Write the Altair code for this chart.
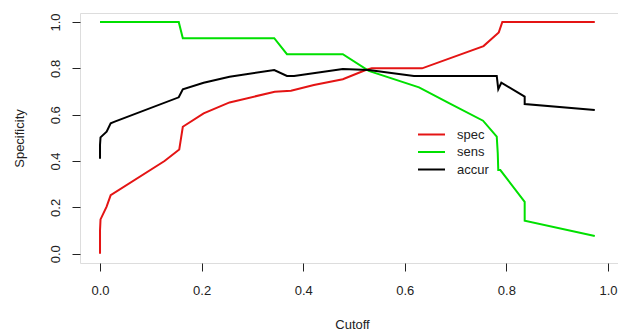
import altair as alt
import pandas as pd

# --- data ---
spec_x = [0.0, 0.0, 0.001, 0.013, 0.021, 0.127, 0.156, 0.163, 0.204, 0.255, 0.344, 0.376,
          0.421, 0.478, 0.523, 0.535, 0.634, 0.755, 0.785, 0.792, 0.974]
spec_y = [0.0, 0.10, 0.148, 0.203, 0.253, 0.40, 0.45, 0.548, 0.606, 0.653, 0.699, 0.703,
          0.728, 0.753, 0.793, 0.80, 0.80, 0.896, 0.955, 1.0, 1.0]

sens_x = [0.0, 0.155, 0.163, 0.343, 0.368, 0.478, 0.529, 0.628, 0.688, 0.754, 0.781, 0.783,
          0.784, 0.788, 0.836, 0.836, 0.974]
sens_y = [1.0, 1.0, 0.93, 0.93, 0.861, 0.861, 0.789, 0.718, 0.649, 0.574, 0.505, 0.433,
          0.361, 0.361, 0.224, 0.142, 0.076]

accur_x = [0.0, 0.0, 0.001, 0.013, 0.021, 0.029, 0.155, 0.163, 0.204, 0.255, 0.343, 0.368,
           0.382, 0.478, 0.529, 0.618, 0.781, 0.784, 0.790, 0.836, 0.836, 0.974]
accur_y = [0.41, 0.469, 0.502, 0.527, 0.563, 0.57, 0.675, 0.71, 0.738, 0.764, 0.793, 0.767,
           0.767, 0.797, 0.793, 0.767, 0.767, 0.71, 0.738, 0.678, 0.646, 0.62]

series = ["spec", "sens", "accur"]
colors = ["#e41414", "#00e000", "#000000"]
x_ticks = [0.0, 0.2, 0.4, 0.6, 0.8, 1.0]
y_ticks = [0.0, 0.2, 0.4, 0.6, 0.8, 1.0]

rows = []
for name, xs, ys in [("spec", spec_x, spec_y), ("sens", sens_x, sens_y), ("accur", accur_x, accur_y)]:
    for i, (xv, yv) in enumerate(zip(xs, ys)):
        rows.append({"series": name, "order": i, "cutoff": xv, "value": yv})
df = pd.DataFrame(rows)

FONT = "Liberation Sans"

chart = alt.Chart(df).mark_line(strokeWidth=2, clip=True).encode(
    x=alt.X("cutoff:Q",
            scale=alt.Scale(domain=[-0.0394, 1.0197], nice=False, zero=False),
            axis=alt.Axis(values=x_ticks, format=".1f", title="Cutoff",
                          domain=False, grid=False, tickSize=8, tickColor="#222",
                          labelPadding=13, labelFontSize=13, labelFont=FONT, labelColor="#222",
                          titleFont=FONT, titleFontSize=13, titleFontWeight="normal",
                          titleColor="#222", titleX=272, titleY=61, titleAlign="center",
                          titleBaseline="middle", labelFlush=False)),
    y=alt.Y("value:Q",
            scale=alt.Scale(domain=[-0.0401, 1.0389], nice=False, zero=False),
            axis=alt.Axis(values=y_ticks, format=".1f", title="Specificity",
                          domain=False, grid=False, tickSize=8, tickColor="#222",
                          labelAngle=270, labelAlign="center", labelBaseline="middle",
                          labelPadding=17, labelFontSize=13, labelFont=FONT, labelColor="#222",
                          titleFont=FONT, titleFontSize=13, titleFontWeight="normal",
                          titleColor="#222", titleAngle=270, titleX=-61, titleY=125,
                          titleAlign="center", titleBaseline="middle", labelFlush=False)),
    color=alt.Color("series:N",
                    scale=alt.Scale(domain=series, range=colors),
                    sort=series,
                    legend=alt.Legend(title=None, orient="none", legendX=345, legendY=115,
                                      symbolType="M-2.7,0H2.7", symbolSize=100,
                                      symbolStrokeWidth=2,
                                      labelFont=FONT, labelFontSize=13, labelColor="#222",
                                      labelOffset=19, rowPadding=3.5, padding=0)),
    order="order:Q",
).properties(
    width=538, height=250,
    autosize=alt.AutoSizeParams(type="none"),
    padding={"left": 72, "top": 5, "right": 0, "bottom": 70},
).configure_view(
    stroke="#333", strokeWidth=1
).configure(background="white")

chart.save("out.html", embed_options={"renderer": "svg", "actions": False})
